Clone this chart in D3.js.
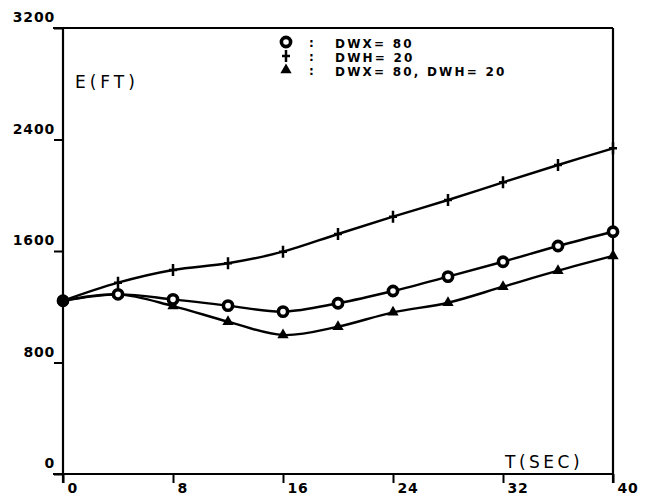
<!DOCTYPE html>
<html><head><meta charset="utf-8">
<script src="https://cdn.jsdelivr.net/npm/d3@7/dist/d3.min.js"></script>
<style>
body{margin:0;background:#fff;}
svg text{font-family:"DejaVu Sans",sans-serif;font-weight:bold;fill:#000;}
</style></head>
<body><svg id="c" width="648" height="499"></svg>
<script>
const times = [0,4,8,12,16,20,24,28,32,36,40];
const circleDWX = [1243,1289,1253,1208,1165,1225,1313,1416,1523,1636,1738];
const plusDWH = [1243,1373,1464,1512,1595,1722,1846,1966,2093,2217,2337];
const triBoth = [1243,1289,1205,1093,997,1057,1160,1229,1344,1459,1565];
const xTicks = [0,8,16,24,32,40];
const yTicks = [0,800,1600,2400,3200];
const legendLabels = ["DWX= 80","DWH= 20","DWX= 80, DWH= 20"];

const svg = d3.select("#c");
const x = d3.scaleLinear().domain([0,40]).range([63,613]);
const y = d3.scaleLinear().domain([0,3200]).range([474,28]);
const ink = "#000";

// frame
svg.append("line").attr("x1",53).attr("x2",613).attr("y1",y(3200)).attr("y2",y(3200)).attr("stroke",ink).attr("stroke-width",2.2);
svg.append("line").attr("x1",x(40)).attr("x2",x(40)).attr("y1",y(3200)).attr("y2",y(0)+9).attr("stroke",ink).attr("stroke-width",2.2);

// y axis
const yAxis = d3.axisLeft(y).tickValues(yTicks).tickSize(9).tickFormat(d=>d);
const gy = svg.append("g").attr("transform",`translate(${x(0)},0)`).call(yAxis);
gy.select(".domain").attr("stroke",ink).attr("stroke-width",2.2).attr("d",`M0,${y(3200)}V${y(0)+9}`);
gy.selectAll(".tick line").attr("stroke",ink).attr("stroke-width",2);
gy.selectAll(".tick text").attr("font-size",14).attr("x",-8).attr("dy","-0.45em").style("letter-spacing","0.8px");

// x axis
const xAxis = d3.axisBottom(x).tickValues(xTicks).tickSize(9).tickFormat(d=>d);
const gx = svg.append("g").attr("transform",`translate(0,${y(0)})`).call(xAxis);
gx.select(".domain").attr("stroke",ink).attr("stroke-width",2.2).attr("d",`M53,0H${x(40)}`);
gx.selectAll(".tick line").attr("stroke",ink).attr("stroke-width",2);
gx.selectAll(".tick text").attr("font-size",14).attr("text-anchor","start").attr("x",4).attr("y",9).attr("dy","0.71em").style("letter-spacing","0.8px");

// axis titles
svg.append("text").attr("x",75).attr("y",88).attr("font-size",17).style("font-weight","normal").style("letter-spacing","4px").text("E(FT)");
svg.append("text").attr("x",505).attr("y",468).attr("font-size",17).style("font-weight","normal").style("letter-spacing","3.5px").text("T(SEC)");

const line = d3.line().x((d,i)=>x(times[i])).y(d=>y(d)).curve(d3.curveCatmullRom.alpha(0.5));
[circleDWX, plusDWH, triBoth].forEach(s=>{
  svg.append("path").attr("d",line(s)).attr("fill","none").attr("stroke",ink).attr("stroke-width",2.4);
});

function drawCircle(g,cx,cy){g.append("circle").attr("cx",cx).attr("cy",cy).attr("r",4.6).attr("fill","#fff").attr("stroke",ink).attr("stroke-width",3.6);}
function drawPlus(g,cx,cy){g.append("path").attr("d",`M${cx-4},${cy}H${cx+4}M${cx},${cy-6}V${cy+6}`).attr("stroke",ink).attr("stroke-width",2.5);}
function drawTri(g,cx,cy){g.append("path").attr("d",d3.symbol(d3.symbolTriangle,55)()).attr("transform",`translate(${cx},${cy})`).attr("fill",ink);}

const gm = svg.append("g");
triBoth.forEach((v,i)=>drawTri(gm,x(times[i]),y(v)));
plusDWH.forEach((v,i)=>drawPlus(gm,x(times[i]),y(v)));
circleDWX.forEach((v,i)=>drawCircle(gm,x(times[i]),y(v)));
// first point looks solid
gm.append("circle").attr("cx",x(0)).attr("cy",y(circleDWX[0])).attr("r",6).attr("fill",ink);

// legend
const lg = svg.append("g");
const rowsY = [43,57,71];
drawCircle(lg,286,rowsY[0]-1);
drawPlus(lg,286,rowsY[1]-1);
drawTri(lg,286,rowsY[2]-1);
rowsY.forEach((ry,i)=>{
  lg.append("text").attr("x",309).attr("y",ry+4).attr("font-size",12).text(":");
  lg.append("text").attr("x",335).attr("y",ry+4.5).attr("font-size",12).style("letter-spacing","2.2px").text(legendLabels[i]);
});
</script></body></html>
